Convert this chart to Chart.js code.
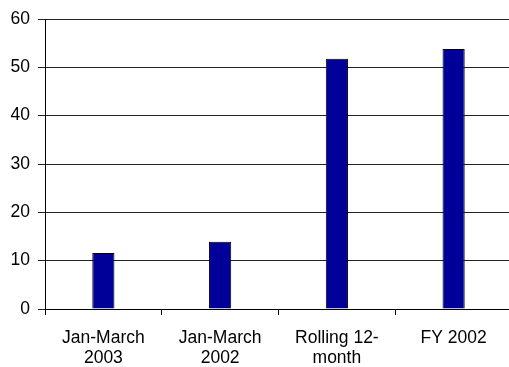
<!DOCTYPE html>
<html>
<head>
<meta charset="utf-8">
<script src="https://cdn.jsdelivr.net/npm/chart.js@4/dist/chart.umd.min.js"></script>
<style>
  html, body { margin: 0; padding: 0; background: #fff; overflow: hidden; }
  #wrap { position: relative; width: 512px; height: 367px; }
</style>
</head>
<body>
<div id="wrap"><canvas id="c" width="512" height="367"></canvas></div>
<script>
// Category labels (two lines each) and bar values
const categories = [
  ['Jan-March', '2003'],
  ['Jan-March', '2002'],
  ['Rolling 12-', 'month'],
  ['FY 2002']
];
const values = [11.6, 13.9, 51.8, 53.8];
const yTicks = [0, 10, 20, 30, 40, 50, 60];

const font = { family: '"Liberation Sans", Arial, sans-serif', size: 17.5, lineHeight: 1.15 };

new Chart(document.getElementById('c'), {
  type: 'bar',
  data: {
    labels: categories,
    datasets: [{
      data: values,
      backgroundColor: '#000099',
      borderColor: '#000000',
      borderWidth: 1,
      categoryPercentage: 1,
      barPercentage: 0.19
    }]
  },
  options: {
    responsive: false,
    animation: false,
    plugins: { legend: { display: false }, tooltip: { enabled: false } },
    layout: { padding: { top: 19, right: 0, bottom: 0, left: 0 } },
    scales: {
      x: {
        grid: {
          offset: true,
          drawOnChartArea: false,
          drawTicks: true,
          tickLength: 6,
          color: '#000000'
        },
        border: { color: '#000000', width: 1 },
        ticks: { color: '#000000', font: font, padding: 13, maxRotation: 0, autoSkip: false },
        afterFit(scale) { scale.height = 58; }
      },
      y: {
        min: 0,
        max: 60,
        afterBuildTicks(scale) { scale.ticks = yTicks.map(v => ({ value: v })); },
        grid: {
          color: '#222222',
          lineWidth: 1,
          tickLength: 7
        },
        border: { color: '#000000', width: 1 },
        ticks: { color: '#000000', font: font, padding: 8 },
        afterFit(scale) { scale.width = 45; }
      }
    }
  }
});
</script>
</body>
</html>
